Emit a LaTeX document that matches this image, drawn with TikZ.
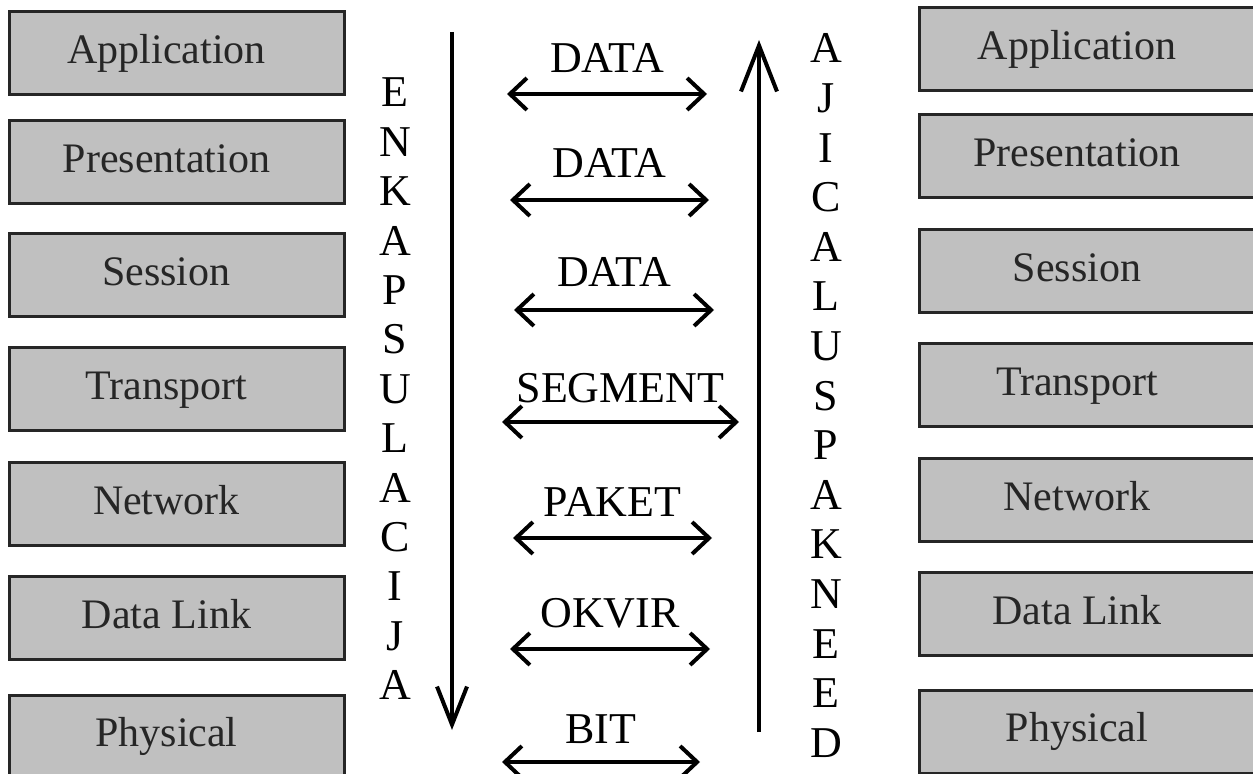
\documentclass[tikz,border=0pt]{standalone}
\usepackage{fontspec}
\setmainfont{Liberation Serif}
\usetikzlibrary{arrows.meta}
\definecolor{layergray}{RGB}{192,192,192}
\tikzstyle{layer}=[rectangle,draw=black!85,fill=layergray,line width=1.5pt,minimum width=167.5pt,minimum height=41.5pt,inner sep=0pt,text height=14pt,text depth=4pt,font=\fontsize{21}{25}\selectfont,text=black!85,execute at end node=\hspace*{10pt}]
\tikzstyle{unit}=[inner sep=0pt,anchor=base,font=\fontsize{22}{26}\selectfont]
\tikzstyle{letter}=[inner sep=0pt,anchor=base,font=\fontsize{22}{26}\selectfont]
\tikzstyle{pdu}=[{Straight Barb[length=8.5pt,width=16pt]}-{Straight Barb[length=8.5pt,width=16pt]},line width=2pt]
\tikzstyle{flowdown}=[-{Straight Barb[length=19pt,width=15pt]},line width=2pt]
\tikzstyle{flowup}=[-{Straight Barb[length=23pt,width=18pt]},line width=2pt]

\begin{document}
\begin{tikzpicture}[x=0.5pt,y=-0.5pt]
  \useasboundingbox (0,0) rectangle (1253,774);
  % layers on both sides
  \foreach \lay/\yl/\yr [count=\i] in {Application/53.5/49.5, Presentation/162.5/156.5, Session/275.5/271.5, Transport/389.5/385.5, Network/504.5/500.5, Data Link/618.5/614.5, Physical/736.5/731.5} {
    \node[layer] (send\i) at (176.5,\yl) {\lay};
    \node[layer] (recv\i) at (1087,\yr) {\lay};
  }
  % enkapsulacija
  \foreach \c [count=\i] in {E,N,K,A,P,S,U,L,A,C,I,J,A}
    \node[letter] (enc\i) at (395,{107+49.4*(\i-1)}) {\c};
  \coordinate (enctop) at (452,32);
  \coordinate (encbot) at (452,730);
  \draw[flowdown] (enctop) -- (encbot);
  % dekapsulacija
  \foreach \c [count=\i] in {A,J,I,C,A,L,U,S,P,A,K,N,E,E,D}
    \node[letter] (dec\i) at (826,{63+49.6*(\i-1)}) {\c};
  \coordinate (decbot) at (759,732);
  \coordinate (dectop) at (759,40);
  \draw[flowup] (decbot) -- (dectop);
  % PDU per layer
  \foreach \u/\ya/\xl/\xr/\yb [count=\i] in {DATA/94/507/707/73, DATA/200/510/709/178, DATA/310/514/714/287, SEGMENT/422/502/739/403, PAKET/538/513/712/517, OKVIR/649/510/710/628, BIT/762/502/700/743} {
    \node[unit] (pdu\i) at ({(\xl+\xr)/2},\yb) {\u};
    \coordinate (pduw\i) at (\xl,\ya);
    \coordinate (pdue\i) at (\xr,\ya);
    \draw[pdu] (pduw\i) -- (pdue\i);
  }
\end{tikzpicture}
\end{document}
